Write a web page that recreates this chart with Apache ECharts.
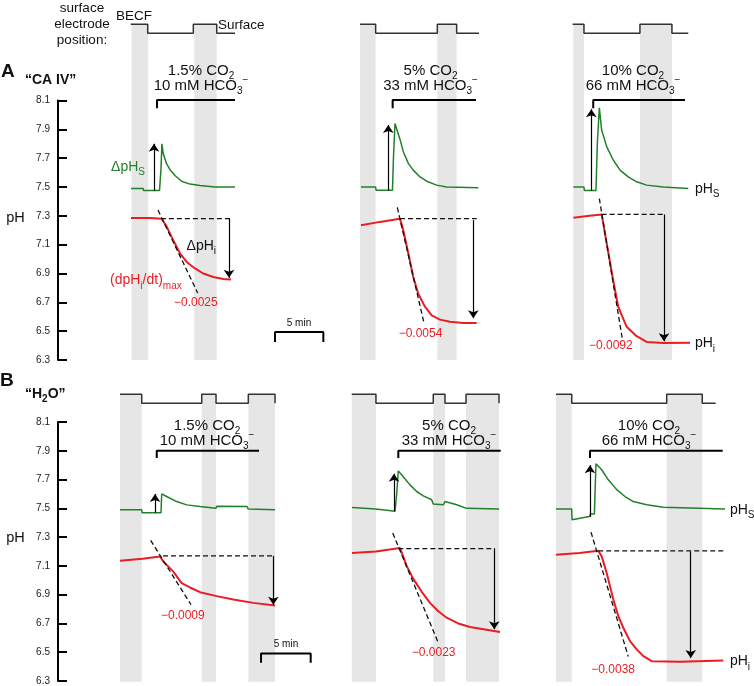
<!DOCTYPE html>
<html><head><meta charset="utf-8">
<script src="https://cdn.jsdelivr.net/npm/echarts@6/dist/echarts.min.js"></script>
<style>html,body{margin:0;padding:0;background:#fff}#c{width:754px;height:686px}</style>
</head><body><div id="c"></div>
<script>
// ================= DATA (time in minutes, values in pH units) =================
const phTicks = [6.3, 6.5, 6.7, 6.9, 7.1, 7.3, 7.5, 7.7, 7.9, 8.1];
const co2Labels = ['1.5%', '5%', '10%'];
const hco3Labels = ['10', '33', '66'];

// ---- Panel A: "CA IV" ----
const bandsA = [[7.62, 9.34], [14.10, 16.42], [31.24, 32.86], [39.24, 41.24], [53.31, 54.41], [60.20, 63.51]];
const electrodeA1 = [[7.52, 1], [9.28, 0], [14.0, 1], [16.42, 0], [18.31, 0]];
const electrodeA2 = [[31.24, 1], [32.86, 0], [39.24, 1], [41.24, 0], [43.55, 0]];
const electrodeA3 = [[53.24, 1], [54.41, 0], [60.20, 1], [63.51, 0], [65.20, 0]];
const pHsA1 = [[7.55, 7.49], [8.82, 7.49], [8.85, 7.475], [10.5, 7.475], [10.65, 7.62], [10.75, 7.80], [10.89, 7.73], [11.24, 7.66], [11.59, 7.62], [12.10, 7.58], [12.79, 7.54], [13.65, 7.52], [14.69, 7.51], [16.24, 7.50], [18.31, 7.50]];
const pHiA1 = [[7.55, 7.285], [9.5, 7.285], [10.73, 7.28], [10.89, 7.27], [11.24, 7.225], [11.93, 7.13], [12.62, 7.04], [13.31, 6.98], [14.17, 6.935], [15.03, 6.90], [16.07, 6.876], [17.10, 6.862], [17.90, 6.858]];
const pHsA2 = [[31.34, 7.50], [32.86, 7.50], [32.9, 7.478], [34.6, 7.478], [34.7, 7.70], [34.86, 7.94], [35.38, 7.83], [35.72, 7.745], [36.24, 7.664], [36.75, 7.617], [37.45, 7.57], [38.14, 7.54], [39.17, 7.513], [40.21, 7.50], [43.48, 7.495]];
const pHiA2 = [[31.34, 7.235], [33.31, 7.258], [35.38, 7.28], [35.72, 7.20], [36.24, 7.04], [36.75, 6.876], [37.27, 6.76], [37.96, 6.67], [38.66, 6.61], [39.52, 6.58], [40.55, 6.565], [41.93, 6.557], [43.31, 6.557]];
const pHsA3 = [[53.31, 7.50], [54.41, 7.50], [54.45, 7.476], [55.65, 7.476], [55.79, 7.80], [56.0, 8.05], [56.24, 7.895], [56.76, 7.78], [57.44, 7.687], [58.14, 7.617], [58.99, 7.57], [59.86, 7.536], [60.90, 7.513], [62.62, 7.50], [65.20, 7.49]];
const pHiA3 = [[53.31, 7.286], [55.0, 7.30], [56.24, 7.31], [56.76, 7.11], [57.44, 6.85], [57.96, 6.668], [58.83, 6.53], [59.86, 6.465], [60.90, 6.425], [62.62, 6.418], [65.38, 6.42]];
const baselineA = [[10.65, 17.97, 7.28], [35.38, 43.31, 7.28], [56.24, 62.79, 7.31]];          // [from, to, pH]
const tangentA = [[[10.34, 7.34], [14.45, 6.765]], [[35.10, 7.358], [37.89, 6.548]], [[56.0, 7.42], [58.37, 6.45]]];
const deltaSA = [[9.93, 7.475, 7.80], [34.17, 7.478, 7.93], [55.17, 7.476, 8.04]];           // [t, from, to]
const deltaIA = [[17.69, 7.28, 6.87], [42.96, 7.27, 6.59], [62.69, 7.31, 6.43]];
const solutionA = [[10.24, 18.31], [34.62, 43.24], [55.37, 64.86]];
const solutionLevelA = [8.046, 8.103];
const scaleBarA = [22.45, 6.425, 6.494];
const slopeA = ['−0.0025', '−0.0054', '−0.0092'];

// ---- Panel B: "H2O" ----
const bandsB = [[6.24, 8.43], [14.47, 15.91], [19.16, 21.85], [29.57, 32.01], [37.78, 38.96], [41.08, 44.40], [50.14, 51.72], [61.28, 64.86]];
const electrodeB1 = [[6.24, 1], [8.43, 0], [14.47, 1], [15.91, 0], [19.16, 1], [21.85, 1], [21.85, 0]];
const electrodeB2 = [[29.57, 1], [32.01, 0], [37.78, 1], [38.96, 0], [41.08, 1], [44.40, 1], [44.40, 0]];
const electrodeB3 = [[50.14, 1], [51.72, 0], [61.28, 1], [64.86, 0], [66.21, 0]];
const pHsB1 = [[6.24, 7.49], [8.43, 7.49], [8.46, 7.47], [10.37, 7.47], [10.44, 7.60], [10.94, 7.582], [11.95, 7.547], [12.96, 7.524], [14.30, 7.513], [14.40, 7.50], [15.9, 7.50], [15.98, 7.515], [19.03, 7.512], [19.16, 7.495], [21.85, 7.49]];
const pHiB1 = [[6.24, 7.136], [8.5, 7.15], [10.27, 7.166], [10.6, 7.13], [11.61, 7.06], [12.45, 6.98], [13.29, 6.95], [14.30, 6.917], [15.98, 6.89], [17.65, 6.866], [19.66, 6.843], [21.85, 6.824]];
const pHsB2 = [[29.6, 7.505], [32.0, 7.495], [33.93, 7.48], [34.1, 7.6], [34.26, 7.76], [34.76, 7.72], [35.44, 7.663], [36.11, 7.617], [36.78, 7.587], [37.62, 7.56], [37.78, 7.53], [38.8, 7.525], [38.96, 7.547], [40.14, 7.525], [41.14, 7.50], [44.40, 7.495]];
const pHiB2 = [[29.6, 7.19], [32.0, 7.20], [34.43, 7.225], [34.60, 7.212], [35.10, 7.10], [35.77, 7.01], [36.62, 6.92], [37.45, 6.843], [38.29, 6.785], [39.13, 6.74], [40.30, 6.70], [41.48, 6.675], [44.50, 6.64]];
const pHsB3 = [[50.14, 7.495], [51.72, 7.495], [51.75, 7.42], [53.5, 7.443], [53.6, 7.46], [54.0, 7.46], [54.16, 7.81], [54.74, 7.768], [55.40, 7.698], [56.25, 7.63], [57.08, 7.582], [57.92, 7.547], [59.27, 7.525], [60.94, 7.508], [67.15, 7.495]];
const pHiB3 = [[50.14, 7.178], [52.5, 7.19], [54.39, 7.205], [54.74, 7.166], [55.24, 7.05], [55.91, 6.866], [56.41, 6.75], [56.91, 6.67], [57.59, 6.577], [58.26, 6.52], [58.93, 6.473], [59.77, 6.438], [62.62, 6.434], [66.98, 6.443]];
const baselineB = [[10.57, 21.85, 7.17], [34.26, 43.99, 7.22], [54.39, 66.98, 7.205]];
const tangentB = [[[9.33, 7.277], [13.39, 6.83]], [[33.70, 7.328], [38.29, 6.565]], [[53.66, 7.335], [57.41, 6.47]]];
const deltaSB = [[9.77, 7.47, 7.60], [33.83, 7.48, 7.74], [53.56, 7.44, 7.80]];
const deltaIB = [[21.68, 7.17, 6.83], [43.92, 7.22, 6.66], [63.70, 7.20, 6.46]];
const solutionB = [[9.94, 20.24], [34.26, 44.57], [53.56, 66.92]];
const solutionLevelB = [7.85, 7.90];
const scaleBarB = [20.44, 6.427, 6.491];
const slopeB = ['−0.0009', '−0.0023', '−0.0038'];
const scaleMinutes = 5;

// ================= STYLE / LAYOUT =================
const FONT = "'Liberation Sans', Arial, Helvetica, sans-serif";
const GREEN = '#23802a', RED = '#ec1c24', BAND = '#e6e6e6', DARK = '#333', INK = '#111';

const panels = [
  { xMax: 72.0, top: 24.3, mainTop: 100.5, bottom: 360, bands: bandsA,
    elec: [electrodeA1, electrodeA2, electrodeA3], pHs: [pHsA1, pHsA2, pHsA3], pHi: [pHiA1, pHiA2, pHiA3],
    base: baselineA, tan: tangentA, dS: deltaSA, dI: deltaIA, sol: solutionA, solLv: solutionLevelA, bar: scaleBarA },
  { xMax: 70.07, top: 394.3, mainTop: 422, bottom: 681.7, bands: bandsB,
    elec: [electrodeB1, electrodeB2, electrodeB3], pHs: [pHsB1, pHsB2, pHsB3], pHi: [pHiB1, pHiB2, pHiB3],
    base: baselineB, tan: tangentB, dS: deltaSB, dI: deltaIB, sol: solutionB, solLv: solutionLevelB, bar: scaleBarB }
];

const grid = [], xAxis = [], yAxis = [], series = [];
function ls(gi, data, style, extra) {
  return Object.assign({ type: 'line', xAxisIndex: gi, yAxisIndex: gi, data: data, showSymbol: false, symbol: 'none',
    silent: true, animation: false, lineStyle: style, emphasis: { disabled: true } }, extra || {});
}
panels.forEach(function (p) {
  const g0 = grid.length;
  p.mainGrid = g0 + 2;
  grid.push({ left: 58, right: 0, top: p.top, height: p.bottom - p.top });
  grid.push({ left: 58, right: 0, top: p.top, height: 9 });
  grid.push({ left: 58, right: 0, top: p.mainTop, height: p.bottom - p.mainTop });
  for (let i = 0; i < 3; i++) xAxis.push({ type: 'value', gridIndex: g0 + i, min: 0, max: p.xMax, show: false });
  yAxis.push({ type: 'value', gridIndex: g0, min: 0, max: 1, show: false });
  yAxis.push({ type: 'value', gridIndex: g0 + 1, min: 0, max: 1, show: false });
  yAxis.push({ type: 'value', gridIndex: g0 + 2, min: 6.3, max: 8.1,
    axisLine: { show: true, onZero: false, lineStyle: { color: '#000', width: 2 } },
    axisTick: { show: true, inside: true, length: 9, customValues: phTicks, lineStyle: { color: '#000', width: 2 } },
    axisLabel: { show: true, customValues: phTicks, formatter: function (v) { return v.toFixed(1); },
      fontSize: 10, color: '#222', fontFamily: FONT, margin: 8 },
    splitLine: { show: false } });

  // gray bands (electrode in BECF)
  series.push(ls(g0, [], { opacity: 0 }, { z: 0, markArea: { silent: true, itemStyle: { color: BAND },
    data: p.bands.map(function (b) { return [{ xAxis: b[0] }, { xAxis: b[1] }]; }) } }));
  // electrode position traces
  p.elec.forEach(function (e) { series.push(ls(g0 + 1, e, { color: DARK, width: 1.5 }, { step: 'end', clip: false })); });
  const gm = g0 + 2;
  p.pHs.forEach(function (d) { series.push(ls(gm, d, { color: GREEN, width: 1.5 })); });
  p.pHi.forEach(function (d) { series.push(ls(gm, d, { color: RED, width: 2 })); });
  p.base.forEach(function (b) { series.push(ls(gm, [[b[0], b[2]], [b[1], b[2]]], { color: INK, width: 1.3, type: [5, 3] })); });
  p.tan.forEach(function (t) { series.push(ls(gm, t, { color: INK, width: 1.3, type: [5, 3] })); });
  p.sol.forEach(function (s) {
    series.push(ls(gm, [[s[0], p.solLv[0]], [s[0], p.solLv[1]], [s[1], p.solLv[1]]], { color: '#000', width: 2 }, { clip: false }));
  });
  const b = p.bar;
  series.push(ls(gm, [[b[0], b[1]], [b[0], b[2]], [b[0] + scaleMinutes, b[2]], [b[0] + scaleMinutes, b[1]]], { color: '#000', width: 2 }));
  // arrows
  const arr = p.dS.concat(p.dI).map(function (a) { return [{ coord: [a[0], a[1]] }, { coord: [a[0], a[2]] }]; });
  series.push(ls(gm, [], { opacity: 0 }, { z: 5, markLine: { silent: true, animation: false, symbol: ['none', 'arrow'], symbolSize: 8,
    precision: 4, label: { show: false }, itemStyle: { color: '#000' }, lineStyle: { color: '#000', width: 1.2, type: 'solid' },
    emphasis: { disabled: true }, data: arr } }));
});

const chart = echarts.init(document.getElementById('c'));
chart.setOption({ animation: false, textStyle: { fontFamily: FONT }, grid: grid, xAxis: xAxis, yAxis: yAxis, series: series });

function makeText(x, y, parts, o) {
  const base = { fontFamily: FONT, fontSize: o.size, fontWeight: o.weight || 'normal', fill: o.color || INK };
  const sub = o.sub || Math.round(o.size * 0.7);
  const rich = {
    m: Object.assign({}, base),
    s: Object.assign({}, base, { fontSize: sub, padding: [sub + 1, 0, 0, 0] }),
    u: Object.assign({}, base, { fontSize: sub, padding: [0, 0, sub + 1, 0] })
  };
  const text = parts.map(function (q) { return '{' + q[0] + '|' + q[1] + '}'; }).join('');
  return { type: 'text', x: x, y: y, silent: true, z: 100,
    style: Object.assign({ text: text, rich: rich, align: o.align || 'center', verticalAlign: 'middle' }, base) };
}

const gfx = [];
// static labels (pixel layout)
[[82, 8, 'surface'], [82, 24, 'electrode'], [82, 40, 'position:']].forEach(function (t) {
  gfx.push(makeText(t[0], t[1], [['m', t[2]]], { size: 13.5 }));
});
gfx.push(makeText(134, 16.7, [['m', 'BECF']], { size: 13.5 }));
gfx.push(makeText(218, 25.3, [['m', 'Surface']], { size: 13.5, align: 'left' }));
gfx.push(makeText(1, 72, [['m', 'A']], { size: 19, weight: 'bold', align: 'left' }));
gfx.push(makeText(25, 80, [['m', '“CA IV”']], { size: 14, weight: 'bold', align: 'left' }));
gfx.push(makeText(0, 381, [['m', 'B']], { size: 19, weight: 'bold', align: 'left' }));
gfx.push(makeText(25, 394, [['m', '“H'], ['s', '2'], ['m', 'O”']], { size: 14, sub: 10, weight: 'bold', align: 'left' }));
gfx.push(makeText(15.5, 218, [['m', 'pH']], { size: 14.5 }));
gfx.push(makeText(15.5, 538, [['m', 'pH']], { size: 14.5 }));

const condX = [[201, 430.5, 633], [207, 449, 649]];
const condY = [[71, 86], [426, 441]];
[0, 1].forEach(function (k) {
  for (let i = 0; i < 3; i++) {
    gfx.push(makeText(condX[k][i], condY[k][0], [['m', co2Labels[i] + ' CO'], ['s', '2']], { size: 15, sub: 10 }));
    gfx.push(makeText(condX[k][i], condY[k][1], [['m', hco3Labels[i] + ' mM HCO'], ['s', '3'], ['u', '−']], { size: 15, sub: 10 }));
  }
});

// data-anchored annotations
const ann = [
  [0, 9.0, 7.64, [['m', 'ΔpH'], ['s', 'S']], { size: 14, sub: 10, color: GREEN, align: 'right' }],
  [0, 14.82, 7.09, [['m', 'ΔpH'], ['s', 'i']], { size: 14, sub: 10 }],
  [0, 9.09, 6.853, [['m', '(dpH'], ['s', 'i'], ['m', '/dt)'], ['s', 'max']], { size: 14, sub: 10, color: RED }],
  [0, 14.26, 6.697, [['m', slopeA[0]]], { size: 12, color: RED }],
  [0, 37.5, 6.483, [['m', slopeA[1]]], { size: 12, color: RED }],
  [0, 57.19, 6.397, [['m', slopeA[2]]], { size: 12, color: RED }],
  [0, 65.89, 7.485, [['m', 'pH'], ['s', 'S']], { size: 14, sub: 10, align: 'left' }],
  [0, 65.89, 6.416, [['m', 'pH'], ['s', 'i']], { size: 14, sub: 10, align: 'left' }],
  [0, 24.93, 6.556, [['m', scaleMinutes + ' min']], { size: 10 }],
  [1, 12.57, 6.755, [['m', slopeB[0]]], { size: 12, color: RED }],
  [1, 37.82, 6.495, [['m', slopeB[1]]], { size: 12, color: RED }],
  [1, 55.89, 6.381, [['m', slopeB[2]]], { size: 12, color: RED }],
  [1, 67.65, 7.49, [['m', 'pH'], ['s', 'S']], { size: 14, sub: 10, align: 'left' }],
  [1, 67.65, 6.436, [['m', 'pH'], ['s', 'i']], { size: 14, sub: 10, align: 'left' }],
  [1, 22.95, 6.553, [['m', scaleMinutes + ' min']], { size: 10 }]
];
ann.forEach(function (a) {
  const px = chart.convertToPixel({ gridIndex: panels[a[0]].mainGrid }, [a[1], a[2]]);
  gfx.push(makeText(px[0], px[1], a[3], a[4]));
});
chart.setOption({ graphic: gfx });
</script>
</body></html>
